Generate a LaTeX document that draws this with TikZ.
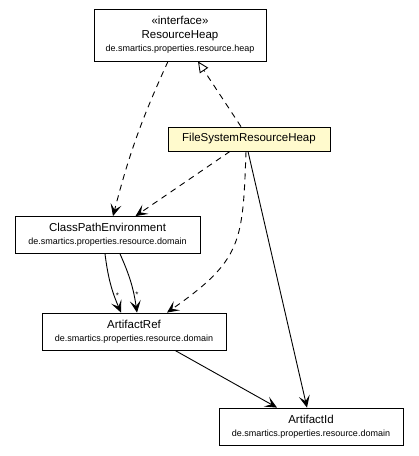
\documentclass[tikz,border=0pt]{standalone}
\usepackage{fontspec}
\setmainfont{Liberation Sans}
\usetikzlibrary{arrows.meta}
\definecolor{ctxfill}{HTML}{FFFACD}
\tikzset{
  classbox/.style={rectangle, draw, line width=0.8pt, fill=white, align=center,
    inner sep=0pt, minimum width=184pt, minimum height=37pt,
    font=\fontsize{11.5}{13}\selectfont},
  navarrow/.style={-{Stealth[length=12pt,width=11pt,inset=5.5pt]}, line width=0.9pt},
  deparrow/.style={navarrow, dash pattern=on 6pt off 5pt},
  realarrow/.style={-{Triangle[open,length=11pt,width=10pt]}, line width=0.9pt,
    dash pattern=on 6pt off 5pt},
  multlabel/.style={font=\fontsize{8}{9}\selectfont, inner sep=1pt}
}
\newcommand{\umlclass}[4][] {\node at (#2) (#3) [classbox,#1] {#4};}
\newcommand{\pkgname}[1] {{\fontsize{9}{10}\selectfont #1}}
\newcommand{\stereo}[1] {\guillemotleft #1\guillemotright}
\begin{document}
\begin{tikzpicture}[x=1pt,y=-1pt]
\useasboundingbox (0,0) rectangle (419,456);

\umlclass [minimum width=172pt, minimum height=52pt]{180,35}{resourceheap}
  {\stereo{interface}\\[1pt] ResourceHeap\\ \pkgname{de.smartics.properties.resource.heap}}
\umlclass [minimum width=162pt, minimum height=24pt, fill=ctxfill]{249,139}{fsheap}
  {FileSystemResourceHeap}
\umlclass [minimum width=185pt]{107.5,235}{classpathenv}
  {ClassPathEnvironment\\ \pkgname{de.smartics.properties.resource.domain}}
\umlclass {134,331.5}{artifactref}
  {ArtifactRef\\ \pkgname{de.smartics.properties.resource.domain}}
\umlclass {311,426.5}{artifactid}
  {ArtifactId\\ \pkgname{de.smartics.properties.resource.domain}}

% realization
\draw [realarrow] ([xshift=-8pt]fsheap.north) -- ([xshift=18pt]resourceheap.south);

% dependencies
\draw [deparrow] ([xshift=-12pt]resourceheap.south) to [bend right=5] ([xshift=5.5pt]classpathenv.north);
\draw [deparrow] ([xshift=-19pt]fsheap.south) -- ([xshift=28pt]classpathenv.north);
\draw [deparrow] ([xshift=-3pt]fsheap.south) to [out=-92, in=35, looseness=1.3] ([xshift=33pt]artifactref.north);

% navigable associations
\draw [navarrow] ([xshift=-1pt]fsheap.south) -- ([xshift=-4pt]artifactid.north);
\draw [navarrow] ([xshift=-2.5pt]classpathenv.south) to [bend right=8]
  node [multlabel, pos=0.72, right] {*} ([xshift=-13pt]artifactref.north);
\draw [navarrow] ([xshift=12.5pt]classpathenv.south) to [bend left=8]
  node [multlabel, pos=0.72, right] {*} ([xshift=3pt]artifactref.north);
\draw [navarrow] ([xshift=41pt]artifactref.south) -- ([xshift=-34pt]artifactid.north);

\end{tikzpicture}
\end{document}
